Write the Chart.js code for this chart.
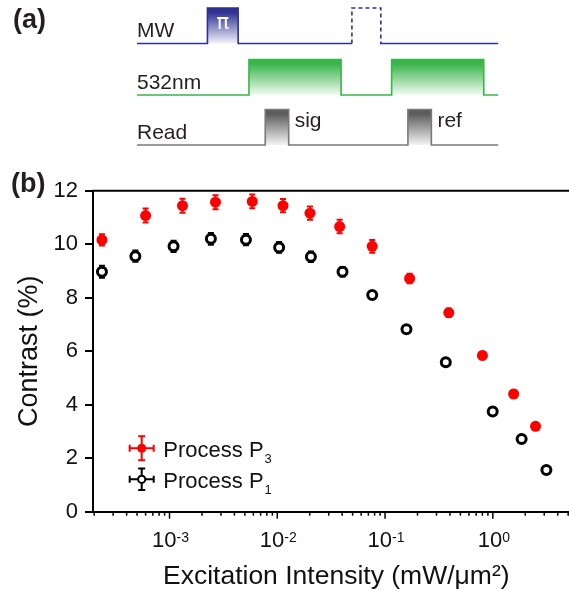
<!DOCTYPE html>
<html>
<head>
<meta charset="utf-8">
<script src="https://cdn.jsdelivr.net/npm/chart.js@4.4.1/dist/chart.umd.min.js"></script>
<style>
  html, body { margin: 0; padding: 0; background: #fff; }
  #wrap { position: relative; width: 569px; height: 593px; overflow: hidden; }
  #main { position: absolute; left: 0; top: 0; z-index: 1; }
  #seq  { position: absolute; left: 0; top: 0; z-index: 2; }
</style>
</head>
<body>
<div id="wrap">
  <canvas id="main" width="587" height="593"></canvas>
  <canvas id="seq" width="569" height="165"></canvas>
</div>
<script>
// ---------- (b) ODMR contrast versus excitation intensity ----------
const intensityP3 = [2.36e-4, 6.0e-4, 1.32e-3, 2.67e-3, 5.86e-3, 1.13e-2, 2.01e-2, 3.79e-2, 7.6e-2, 0.169, 0.39, 0.80, 1.56, 2.49];
const contrastP3  = [10.16, 11.07, 11.44, 11.57, 11.60, 11.44, 11.16, 10.66, 9.92, 8.72, 7.44, 5.84, 4.40, 3.19];
const errorP3     = [0.21, 0.26, 0.26, 0.26, 0.26, 0.25, 0.25, 0.25, 0.24, 0.18, 0.16, 0.14, 0.12, 0.12];

const intensityP1 = [2.36e-4, 4.82e-4, 1.09e-3, 2.42e-3, 5.12e-3, 1.04e-2, 2.05e-2, 4.03e-2, 7.6e-2, 0.158, 0.366, 0.997, 1.85, 3.14];
const contrastP1  = [8.97, 9.55, 9.92, 10.20, 10.17, 9.88, 9.53, 8.97, 8.10, 6.82, 5.59, 3.75, 2.72, 1.56];
const errorP1     = [0.22, 0.21, 0.21, 0.22, 0.21, 0.20, 0.20, 0.18, 0.15, 0.12, 0.10, 0.10, 0.10, 0.10];

const seriesNames     = ['Process P', 'Process P'];
const seriesSubscript = ['3', '1'];
const decadeExponents = [-3, -2, -1, 0];

// ---------- (a) pulse sequence (time in arbitrary units) ----------
const channelNames = ['MW', '532nm', 'Read'];
const channelBase  = [2.86, 1.41, 0];
const mwPulses     = [[19.5, 28]];
const mwRefPulse   = [59.5, 67.5];
const laserPulses  = [[31, 56.5], [70.5, 96]];
const readPulses   = [[35.5, 42], [75, 81.5]];
const gateNames    = ['sig', 'ref'];
const SEQ_END = 100;

const FONT = '"Liberation Sans", Arial, Helvetica, sans-serif';
Chart.defaults.font.family = FONT;
Chart.defaults.color = '#111';

// ---------- pulse sequence chart ----------
function pulseTrain(base, pulses, start, end) {
  const pts = [{ x: start, y: base }];
  pulses.forEach(([a, b]) => {
    pts.push({ x: a, y: base }, { x: a, y: base + 1 }, { x: b, y: base + 1 }, { x: b, y: base });
  });
  pts.push({ x: end, y: base });
  return pts;
}

function pulseFill(base, dark, light) {
  return (ctx) => {
    const chart = ctx.chart;
    if (!chart.chartArea) return dark;
    const y = chart.scales.y;
    const g = chart.ctx.createLinearGradient(0, y.getPixelForValue(base + 1), 0, y.getPixelForValue(base));
    g.addColorStop(0, dark);
    g.addColorStop(0.12, dark);
    g.addColorStop(1, light);
    return g;
  };
}

const mwColor = '#2e3192', laserColor = '#39b54a', readColor = '#7a7a7a';

const mwLine = pulseTrain(channelBase[0], mwPulses, 0, mwRefPulse[0])
  .concat([{ x: (mwRefPulse[0] + mwRefPulse[1]) / 2, y: null }, { x: mwRefPulse[1], y: channelBase[0] }, { x: SEQ_END, y: channelBase[0] }]);
const mwRefLine = pulseTrain(channelBase[0], [mwRefPulse], mwRefPulse[0], mwRefPulse[1]);

const seqLabels = {
  id: 'seqLabels',
  afterDatasetsDraw(chart) {
    const { ctx, scales: { x, y } } = chart;
    ctx.save();
    ctx.fillStyle = '#231f20';
    ctx.textAlign = 'left';
    ctx.textBaseline = 'alphabetic';
    ctx.font = '21px ' + FONT;
    channelNames.forEach((name, i) => {
      ctx.fillText(name, x.getPixelForValue(0), y.getPixelForValue(channelBase[i]) - 6);
    });
    readPulses.forEach(([, b], i) => {
      ctx.fillText(gateNames[i], x.getPixelForValue(b) + 6, y.getPixelForValue(channelBase[2] + 0.5));
    });
    // pi label on the MW pulse
    const [a, b] = mwPulses[0];
    ctx.fillStyle = '#fff';
    ctx.textAlign = 'center';
    ctx.textBaseline = 'middle';
    ctx.font = '21px "DejaVu Sans", sans-serif';
    ctx.fillText('π', x.getPixelForValue((a + b) / 2), y.getPixelForValue(channelBase[0] + 0.55));
    // panel letter
    ctx.fillStyle = '#231f20';
    ctx.textAlign = 'left';
    ctx.textBaseline = 'alphabetic';
    ctx.font = 'bold 27px ' + FONT;
    ctx.fillText('(a)', 13, 28);
    ctx.restore();
  }
};

new Chart(document.getElementById('seq'), {
  type: 'line',
  data: {
    datasets: [
      { data: mwLine, borderColor: mwColor, borderWidth: 1.6, fill: { value: channelBase[0] },
        backgroundColor: pulseFill(channelBase[0], mwColor, '#f2f2fa'), spanGaps: false },
      { data: mwRefLine, borderColor: mwColor, borderWidth: 1.6, borderDash: [4, 3], fill: false },
      { data: pulseTrain(channelBase[1], laserPulses, 0, SEQ_END), borderColor: laserColor, borderWidth: 1.6,
        fill: { value: channelBase[1] }, backgroundColor: pulseFill(channelBase[1], laserColor, '#f3faf3') },
      { data: pulseTrain(channelBase[2], readPulses, 0, SEQ_END), borderColor: readColor, borderWidth: 1.6,
        fill: { value: channelBase[2] }, backgroundColor: pulseFill(channelBase[2], '#5c5c5c', '#f4f4f4') }
    ]
  },
  options: {
    responsive: false,
    animation: false,
    events: [],
    layout: { padding: 0 },
    elements: { point: { radius: 0 }, line: { tension: 0 } },
    plugins: { legend: { display: false }, tooltip: { enabled: false } },
    scales: {
      x: { type: 'linear', min: -37.93, max: 119.6, display: false },
      y: { type: 'linear', min: -0.563, max: 4.085, display: false }
    }
  },
  plugins: [seqLabels]
});

// ---------- contrast chart ----------
const errorBars = {
  id: 'errorBars',
  beforeDatasetDraw(chart, args) {
    const ds = chart.data.datasets[args.index];
    const { ctx, scales: { y } } = chart;
    ctx.save();
    ctx.strokeStyle = ds.barColor;
    ctx.lineWidth = 2;
    args.meta.data.forEach((pt, i) => {
      const v = ds.data[i].y, e = ds.errors[i];
      const hi = y.getPixelForValue(v + e), lo = y.getPixelForValue(v - e);
      ctx.beginPath();
      ctx.moveTo(pt.x, hi); ctx.lineTo(pt.x, lo);
      ctx.moveTo(pt.x - 3, hi); ctx.lineTo(pt.x + 3, hi);
      ctx.moveTo(pt.x - 3, lo); ctx.lineTo(pt.x + 3, lo);
      ctx.stroke();
    });
    ctx.restore();
  }
};

const axisDecor = {
  id: 'axisDecor',
  afterDraw(chart) {
    const { ctx, chartArea: a, scales: { x } } = chart;
    ctx.save();
    ctx.strokeStyle = '#000';
    // top frame
    ctx.lineWidth = 2;
    ctx.beginPath();
    ctx.moveTo(a.left - 1, a.top);
    ctx.lineTo(a.right, a.top);
    ctx.stroke();
    // log tick marks
    ctx.lineWidth = 1.5;
    for (let e = -5; e <= 1; e++) {
      for (let m = 1; m <= 9; m++) {
        const v = m * Math.pow(10, e);
        if (v < x.min || v > x.max) continue;
        const px = x.getPixelForValue(v);
        const len = m === 1 ? 7 : 4;
        ctx.beginPath();
        ctx.moveTo(px, a.bottom);
        ctx.lineTo(px, a.bottom + len);
        ctx.stroke();
      }
    }
    // decade labels with superscript exponents
    ctx.fillStyle = '#111';
    ctx.textBaseline = 'alphabetic';
    ctx.textAlign = 'left';
    decadeExponents.forEach((e) => {
      const px = x.getPixelForValue(Math.pow(10, e));
      const sup = e < 0 ? '-' + Math.abs(e) : String(e);
      ctx.font = '22px ' + FONT;
      const w1 = ctx.measureText('10').width;
      ctx.font = '14px ' + FONT;
      const w2 = ctx.measureText(sup).width;
      const x0 = px - (w1 + w2) / 2 + 1;
      ctx.font = '22px ' + FONT;
      ctx.fillText('10', x0, a.bottom + 35.6);
      ctx.font = '14px ' + FONT;
      ctx.fillText(sup, x0 + w1, a.bottom + 29.8);
    });
    // panel letter
    ctx.fillStyle = '#231f20';
    ctx.font = 'bold 27px ' + FONT;
    ctx.fillText('(b)', 11, 192);
    ctx.restore();
  }
};

const legendBox = {
  id: 'legendBox',
  afterDraw(chart) {
    const { ctx, chartArea: a } = chart;
    const cx = a.left + 48.7;
    const rows = [a.bottom - 63.4, a.bottom - 32.4];
    ctx.save();
    chart.data.datasets.forEach((ds, i) => {
      const cy = rows[i];
      const c = ds.barColor;
      ctx.strokeStyle = c;
      ctx.lineWidth = 2;
      ctx.beginPath();
      ctx.moveTo(cx - 12, cy); ctx.lineTo(cx + 12, cy);
      ctx.moveTo(cx - 12, cy - 3.5); ctx.lineTo(cx - 12, cy + 3.5);
      ctx.moveTo(cx + 12, cy - 3.5); ctx.lineTo(cx + 12, cy + 3.5);
      const vy = i === 0 ? 12 : 10.7;
      ctx.moveTo(cx, cy - vy); ctx.lineTo(cx, cy + vy);
      ctx.moveTo(cx - 3.5, cy - vy); ctx.lineTo(cx + 3.5, cy - vy);
      ctx.moveTo(cx - 3.5, cy + vy); ctx.lineTo(cx + 3.5, cy + vy);
      ctx.stroke();
      ctx.beginPath();
      if (i === 0) {
        ctx.arc(cx, cy, 4.5, 0, Math.PI * 2);
        ctx.fillStyle = c;
        ctx.fill();
      } else {
        ctx.arc(cx, cy, 3.6, 0, Math.PI * 2);
        ctx.fillStyle = '#fff';
        ctx.fill();
        ctx.lineWidth = 2;
        ctx.stroke();
      }
      ctx.fillStyle = '#111';
      ctx.textAlign = 'left';
      ctx.textBaseline = 'alphabetic';
      ctx.font = '22px ' + FONT;
      const tx = a.left + 70.3, ty = cy + 8.4;
      ctx.fillText(seriesNames[i], tx, ty);
      const w = ctx.measureText(seriesNames[i]).width;
      ctx.font = '13px ' + FONT;
      ctx.fillText(seriesSubscript[i], tx + w + 1, ty + 6.6);
    });
    ctx.restore();
  }
};

new Chart(document.getElementById('main'), {
  type: 'scatter',
  data: {
    datasets: [
      {
        label: 'Process P3',
        data: intensityP3.map((v, i) => ({ x: v, y: contrastP3[i] })),
        errors: errorP3, barColor: '#ff0000',
        pointStyle: 'circle', pointRadius: 5.5, pointBorderWidth: 0,
        pointBackgroundColor: '#ff0000', pointBorderColor: '#ff0000'
      },
      {
        label: 'Process P1',
        data: intensityP1.map((v, i) => ({ x: v, y: contrastP1[i] })),
        errors: errorP1, barColor: '#000000',
        pointStyle: 'circle', pointRadius: 4.5, pointBorderWidth: 3,
        pointBackgroundColor: '#ffffff', pointBorderColor: '#000000'
      }
    ]
  },
  options: {
    responsive: false,
    animation: false,
    events: [],
    layout: { padding: { top: 190.7, left: 0, right: 0, bottom: 0 } },
    plugins: { legend: { display: false }, tooltip: { enabled: false } },
    scales: {
      x: {
        type: 'logarithmic', min: 1.95e-4, max: 6.37,
        ticks: { display: false },
        grid: { display: false },
        border: { display: true, color: '#000', width: 2 },
        title: { display: true, text: 'Excitation Intensity (mW/μm²)', font: { size: 26.5 }, color: '#111', padding: { top: 0, bottom: 0 } },
        afterFit(scale) { scale.height = 81.3; }
      },
      y: {
        min: 0, max: 12,
        ticks: { stepSize: 2, font: { size: 22 }, color: '#111', padding: 7 },
        grid: { drawOnChartArea: false, drawTicks: true, tickLength: 8, color: '#000', lineWidth: 2 },
        border: { display: true, color: '#000', width: 2 },
        title: { display: true, text: 'Contrast (%)', font: { size: 27 }, color: '#111', padding: { top: 13, bottom: 0 } },
        afterFit(scale) { scale.width = 93; }
      }
    }
  },
  plugins: [errorBars, axisDecor, legendBox]
});
</script>
</body>
</html>
